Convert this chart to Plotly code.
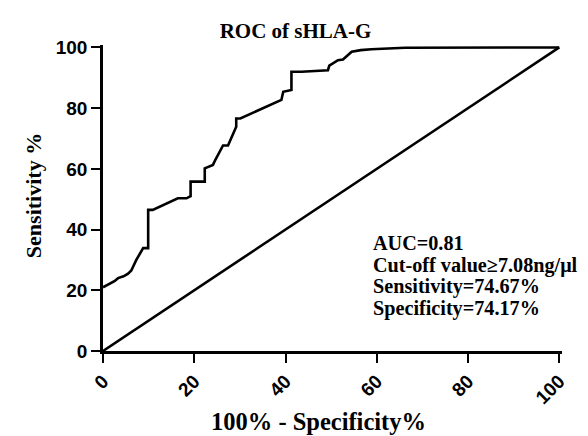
import plotly.graph_objects as go

# ROC curve (100% - Specificity%, Sensitivity%)
fpr = [0, 1.5, 2.5, 3.3, 4.5, 5.5, 6.2, 7.3, 8.8, 9.9, 9.9, 10.9, 16.4, 18.3, 19.2, 19.2,
       22.3, 22.3, 24.1, 24.6, 26.3, 27.4, 28.5, 29.2, 29.2, 30.1, 39.1, 39.5, 41.3,
       41.3, 43.5, 49.3, 49.6, 51.5, 52.6, 54.5, 56.5, 58.8, 66.2, 100]
tpr = [21, 22.3, 23, 24, 24.6, 25.5, 26.5, 30, 33.9, 33.9, 46.5, 46.5, 50.3, 50.3, 51, 55.8,
       55.8, 60.2, 61.3, 62.9, 67.7, 67.7, 71.7, 73.9, 76.6, 76.6, 82.7, 85.4, 86,
       92, 92, 92.5, 94, 95.8, 96, 98.6, 99.1, 99.4, 99.9, 100]

ref_x = [0, 100]
ref_y = [0, 100]

x_ticks = [0, 20, 40, 60, 80, 100]
y_ticks = [0, 20, 40, 60, 80, 100]

title_text = "ROC of sHLA-G"
x_title = "100% - Specificity%"
y_title = "Sensitivity %"
stats_lines = ["AUC=0.81", "Cut-off value\u22657.08ng/\u03bcl",
               "Sensitivity=74.67%", "Specificity=74.17%"]
stats_y = [35.5, 28.3, 21.2, 14.0]

serif = "Liberation Serif, Times New Roman, serif"
sans = "Liberation Sans, Arial, sans-serif"

fig = go.Figure()
fig.add_trace(go.Scatter(x=fpr, y=tpr, mode="lines",
                         line=dict(color="black", width=2.6), hoverinfo="skip"))
fig.add_trace(go.Scatter(x=ref_x, y=ref_y, mode="lines",
                         line=dict(color="black", width=2.6), hoverinfo="skip"))

for txt, yy in zip(stats_lines, stats_y):
    fig.add_annotation(x=58.8, y=yy, xref="x", yref="y", text="<b>" + txt + "</b>",
                       showarrow=False, xanchor="left", yanchor="middle",
                       font=dict(family=serif, size=20.2, color="black"))

# axis titles placed as annotations (paper coords of the plot area)
fig.add_annotation(x=(310 - 95) / 458.7, y=-(414 - 343) / 306.4, xref="paper", yref="paper",
                   text="<b>" + x_title + "</b>", showarrow=False,
                   xanchor="center", yanchor="middle",
                   font=dict(family=serif, size=24.5, color="black"))
fig.add_annotation(x=(25 - 95) / 458.7, y=(343 - 187) / 306.4, xref="paper", yref="paper",
                   text="<b>" + y_title + "</b>", showarrow=False, textangle=-90,
                   xanchor="center", yanchor="middle",
                   font=dict(family=serif, size=22, color="black"))

fig.update_layout(
    width=588, height=436,
    margin=dict(l=95, r=34, t=37, b=93),
    paper_bgcolor="white", plot_bgcolor="white",
    showlegend=False,
    title=dict(text="<b>" + title_text + "</b>", x=287.5 / 588, xanchor="center",
               y=1 - 23 / 436, yanchor="middle", xref="container", yref="container",
               font=dict(family=serif, size=21, color="black")),
)
fig.update_xaxes(range=[0, 100.6], tickvals=x_ticks, ticktext=[str(v) for v in x_ticks],
                 showline=True, linecolor="black", linewidth=2.6, showgrid=False,
                 zeroline=False, ticks="outside", ticklen=9, tickwidth=2.4,
                 tickcolor="black", tickangle=-45,
                 tickfont=dict(family=sans, size=19, color="black", weight="bold"))
fig.update_yaxes(range=[0, 100.8], tickvals=y_ticks, ticktext=[str(v) for v in y_ticks],
                 showline=True, linecolor="black", linewidth=2.6, showgrid=False,
                 zeroline=False, ticks="outside", ticklen=9, tickwidth=2.4,
                 tickcolor="black",
                 tickfont=dict(family=sans, size=19, color="black", weight="bold"))

fig.write_html("out.html")
